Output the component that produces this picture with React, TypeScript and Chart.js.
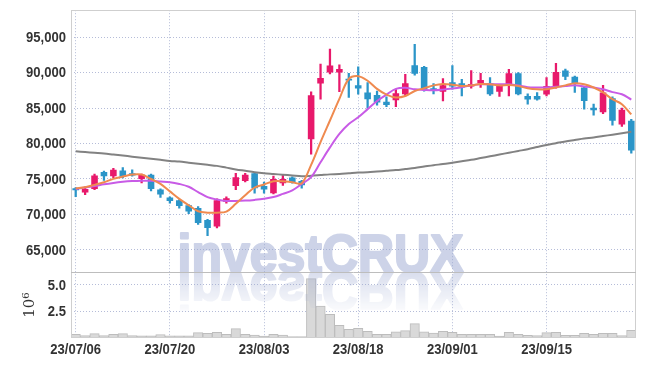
import React, { useEffect, useRef } from 'react';
import { Chart, registerables } from 'chart.js';

Chart.register(...registerables);

const dates = [
  '23/07/06', '23/07/07', '23/07/10', '23/07/11', '23/07/12', '23/07/13', '23/07/14', '23/07/17', '23/07/18', '23/07/19',
  '23/07/20', '23/07/21', '23/07/24', '23/07/25', '23/07/26', '23/07/27', '23/07/28', '23/07/31', '23/08/01', '23/08/02',
  '23/08/03', '23/08/04', '23/08/07', '23/08/08', '23/08/09', '23/08/10', '23/08/11', '23/08/14', '23/08/16', '23/08/17',
  '23/08/18', '23/08/21', '23/08/22', '23/08/23', '23/08/24', '23/08/25', '23/08/28', '23/08/29', '23/08/30', '23/08/31',
  '23/09/01', '23/09/04', '23/09/05', '23/09/06', '23/09/07', '23/09/08', '23/09/11', '23/09/12', '23/09/13', '23/09/14',
  '23/09/15', '23/09/18', '23/09/19', '23/09/20', '23/09/21', '23/09/22', '23/09/25', '23/09/26', '23/09/27', '23/10/04',
];

const xTickLabels = ['23/07/06', '23/07/20', '23/08/03', '23/08/18', '23/09/01', '23/09/15'];

const opens = [
  73700, 73100, 73600, 76000, 75400, 76200, 75800, 75000, 75600, 73500,
  72400, 72000, 71300, 70900, 69200, 68300, 71800, 74000, 74700, 75800,
  74000, 73000, 74400, 75200, 74700, 80600, 88450, 90000, 90000, 89150,
  88200, 87200, 86850, 85900, 86100, 86950, 91050, 90800, 87800, 87300,
  88650, 88500, 88050, 88500, 88500, 87300, 88350, 89900, 86700, 86700,
  86900, 88000, 90300, 89400, 87900, 85050, 84400, 86400, 82700, 83200,
];
const highs = [
  73800, 73900, 75700, 76100, 76500, 76600, 76300, 75700, 75700, 73600,
  72500, 72100, 71400, 71100, 69300, 72200, 72500, 75800, 75800, 75900,
  74550, 75400, 75500, 75300, 74800, 87300, 91200, 93300, 91100, 89900,
  90800, 88600, 87400, 86600, 87600, 89750, 94000, 90900, 88450, 89150,
  91000, 89050, 90300, 89900, 89300, 88300, 90450, 90000, 87000, 87200,
  89300, 91300, 90500, 89500, 88000, 85550, 88200, 86600, 85000, 83400,
];
const lows = [
  72500, 72800, 73500, 74800, 75200, 75150, 75400, 74450, 73300, 72400,
  71600, 70900, 70100, 68600, 67000, 68100, 71600, 73500, 74600, 73000,
  73000, 72900, 74100, 74400, 73700, 78500, 86250, 89800, 87300, 86500,
  86950, 85000, 85400, 85200, 85200, 86700, 89650, 87400, 87000, 86000,
  87650, 86700, 87800, 87900, 86800, 86650, 86700, 86850, 85550, 86100,
  86700, 87800, 89000, 87200, 84850, 84000, 84200, 82600, 82400, 78650,
];
const closes = [
  73400, 73600, 75500, 75400, 76300, 75300, 75500, 75600, 73600, 72800,
  71900, 71200, 70400, 68800, 68100, 72000, 72300, 75250, 75600, 73700,
  73500, 75000, 75000, 74550, 74100, 86800, 89250, 91000, 90500, 88900,
  87750, 86250, 85800, 85450, 87100, 88500, 89850, 87650, 87500, 88200,
  88050, 87900, 88400, 88950, 86950, 88100, 89900, 86950, 86200, 86200,
  88100, 90100, 89400, 88500, 86000, 84700, 87200, 83200, 84750, 79000,
];

const ma5 = [
  73700, 73840, 74170, 74540, 75010, 75340, 75620, 75620, 75000, 74300,
  73250, 72200, 71300, 70450, 70250, 70250, 70400, 71500, 72700, 73800,
  74220, 74680, 74680, 74540, 74400, 77000, 80200, 83250, 86300, 89100,
  89500, 88850, 87700, 86900, 86500, 86700, 87400, 87800, 88200, 88400,
  88300, 88100, 88200, 88400, 88350, 88200, 88250, 88100, 87800, 87650,
  87650, 87900, 88200, 88500, 88350, 87900, 87200, 86250, 85550, 84100,
];
const ma10 = [
  73600, 73800, 74000, 74250, 74450, 74600, 74700, 74750, 74750, 74650,
  74550, 74300, 73900, 73150, 72450, 72100, 71900, 71900, 71950, 72050,
  72200, 72450, 72900, 73400, 74300, 75250, 77350, 79450, 81350, 82750,
  83700, 84850, 86000, 86900, 87700, 87850, 87650, 87550, 87500, 87600,
  87750, 87950, 88200, 88350, 88350, 88350, 88350, 88200, 87950, 87900,
  87900, 88000, 88100, 88200, 88050, 87900, 87650, 87250, 86950, 86200,
];
const maLong = [
  78900, 78800, 78700, 78600, 78450, 78300, 78150, 78000, 77850, 77700,
  77550, 77450, 77300, 77150, 77000, 76850, 76600, 76350, 76150, 75950,
  75800, 75700, 75600, 75500, 75400, 75450, 75550, 75650, 75700, 75800,
  75900, 75950, 76050, 76150, 76250, 76400, 76550, 76750, 76950, 77100,
  77300, 77500, 77700, 77950, 78200, 78450, 78700, 78950, 79200, 79500,
  79800, 80050, 80300, 80500, 80700, 80850, 81050, 81250, 81450, 81650,
];

// volume in millions of shares
const volumes = [
  0.35, 0.23, 0.42, 0.23, 0.35, 0.42, 0.23, 0.2, 0.2, 0.33,
  0.2, 0.2, 0.2, 0.5, 0.45, 0.53, 0.35, 0.88, 0.35, 0.27,
  0.17, 0.35, 0.27, 0.13, 0.13, 5.6, 3.0, 2.24, 1.2, 0.82,
  0.91, 0.63, 0.35, 0.35, 0.57, 0.69, 1.36, 0.57, 0.47, 0.63,
  0.53, 0.35, 0.35, 0.35, 0.35, 0.19, 0.53, 0.35, 0.25, 0.22,
  0.5, 0.53, 0.25, 0.25, 0.44, 0.35, 0.44, 0.44, 0.22, 0.72,
];

const priceTicks = [65000, 70000, 75000, 80000, 85000, 90000, 95000];
const volumeTicks = [2.5, 5.0];

const UP = '#e8196b';
const DOWN = '#2b95c8';
const GRID = 'rgba(150,160,200,0.7)';
const TICK_COLOR = '#333333';
const LABEL_FONT = 'bold 15px "Liberation Sans", Arial, sans-serif';
const LABEL_SX = 0.87;

function drawCondensed(ctx: CanvasRenderingContext2D, text: string, x: number, y: number, align: CanvasTextAlign, baseline: CanvasTextBaseline) {
  ctx.save();
  ctx.translate(x, y);
  ctx.scale(LABEL_SX, 1);
  ctx.textAlign = align;
  ctx.textBaseline = baseline;
  ctx.fillText(text, 0, 0);
  ctx.restore();
}

const labelsPlugin = {
  id: 'condensedLabels',
  afterDraw(chart: any) {
    const ctx = chart.ctx as CanvasRenderingContext2D;
    const a = chart.chartArea;
    const xs = chart.scales.x;
    const ys = chart.scales.y;
    const yv = chart.scales.yv;
    ctx.save();
    ctx.font = LABEL_FONT;
    ctx.fillStyle = TICK_COLOR;
    xTickLabels.forEach((lab) => {
      const idx = dates.indexOf(lab);
      const px = xs.getPixelForValue(idx);
      drawCondensed(ctx, lab, px, xs.top + 16, 'center', 'alphabetic');
    });
    priceTicks.forEach((v) => {
      drawCondensed(ctx, v.toLocaleString('en-US'), a.left - 5, ys.getPixelForValue(v) + 0.5, 'right', 'middle');
    });
    volumeTicks.forEach((v) => {
      drawCondensed(ctx, v.toFixed(1), a.left - 5, yv.getPixelForValue(v) + 0.5, 'right', 'middle');
    });
    ctx.restore();
  },
};

const watermarkPlugin = {
  id: 'watermark',
  afterDatasetsDraw(chart: any) {
    const ctx = chart.ctx as CanvasRenderingContext2D;
    const baseline = chart.scales.y.bottom;
    const text = 'investCRUX';
    const W = chart.width;
    const H = chart.height;
    const font = 'bold 53px "Liberation Sans", Arial, sans-serif';
    const color = 'rgb(155,168,209)';

    const main = document.createElement('canvas');
    main.width = W;
    main.height = H;
    const mc = main.getContext('2d') as CanvasRenderingContext2D;
    mc.font = font;
    const w = mc.measureText(text).width;
    const targetW = 286;
    const sx = targetW / w;
    const left = W / 2 - 2 - targetW / 2;

    const drawText = (c: CanvasRenderingContext2D, flip: boolean) => {
      c.save();
      c.translate(left, baseline);
      c.scale(sx, flip ? -1 : 1);
      c.font = font;
      c.textBaseline = 'alphabetic';
      c.textAlign = 'left';
      c.fillStyle = color;
      c.strokeStyle = color;
      c.lineWidth = 2.2;
      c.lineJoin = 'round';
      c.fillText(text, 0, 0);
      c.strokeText(text, 0, 0);
      c.restore();
    };

    // reflection on its own layer, faded with a gradient mask
    const refl = document.createElement('canvas');
    refl.width = W;
    refl.height = H;
    const rc = refl.getContext('2d') as CanvasRenderingContext2D;
    drawText(rc, true);
    rc.globalCompositeOperation = 'destination-in';
    const g = rc.createLinearGradient(0, baseline, 0, baseline + 44);
    g.addColorStop(0, 'rgba(0,0,0,0.75)');
    g.addColorStop(1, 'rgba(0,0,0,0)');
    rc.fillStyle = g;
    rc.fillRect(0, baseline, W, 46);
    rc.globalCompositeOperation = 'destination-out';
    rc.fillRect(0, 0, W, baseline);

    drawText(mc, false);
    mc.clearRect(0, baseline, W, H - baseline);
    mc.drawImage(refl, 0, 0);

    ctx.save();
    ctx.globalAlpha = 0.5;
    ctx.drawImage(main, 0, 0, W, H);
    ctx.restore();
  },
  afterDraw(chart: any) {
    const ctx = chart.ctx as CanvasRenderingContext2D;
    const a = chart.chartArea;
    const yv = chart.scales.yv;
    ctx.save();
    ctx.strokeStyle = '#cfcfcf';
    ctx.lineWidth = 1;
    ctx.strokeRect(Math.round(a.left) + 0.5, Math.round(a.top) + 0.5, Math.round(a.right - a.left) - 1, Math.round(a.bottom - a.top) - 1);
    ctx.strokeStyle = '#bdbdbd';
    ctx.beginPath();
    const sy = Math.round(yv.top) + 0.5;
    ctx.moveTo(a.left, sy);
    ctx.lineTo(a.right, sy);
    ctx.stroke();
    ctx.restore();
  },
};

export default function App() {
  const canvasRef = useRef<HTMLCanvasElement | null>(null);

  useEffect(() => {
    if (!canvasRef.current) return;
    const colorFor = (c: any) => (closes[c.dataIndex] >= opens[c.dataIndex] ? UP : DOWN);
    const hidden = 'rgba(0,0,0,0)';
    const chart = new Chart(canvasRef.current, {
      type: 'bar',
      data: {
        labels: dates,
        datasets: [
          { type: 'line', label: 'MA5', data: ma5, yAxisID: 'y', borderColor: '#ef8a4f', borderWidth: 2, pointRadius: 0, tension: 0.35, order: 0 } as any,
          { type: 'line', label: 'MA10', data: ma10, yAxisID: 'y', borderColor: '#c85be6', borderWidth: 2, pointRadius: 0, tension: 0.35, order: 0 } as any,
          { type: 'line', label: 'MA long', data: maLong, yAxisID: 'y', borderColor: '#828282', borderWidth: 2, pointRadius: 0, tension: 0.35, order: 0 } as any,
          {
            type: 'bar', label: 'body', data: opens.map((o, i) => [o, closes[i]]), yAxisID: 'y',
            backgroundColor: colorFor, borderWidth: 0, grouped: false,
            categoryPercentage: 1, barPercentage: 0.7, minBarLength: 1.5, order: 2,
          } as any,
          {
            type: 'bar', label: 'wick', data: lows.map((l, i) => [l, highs[i]]), yAxisID: 'y',
            backgroundColor: colorFor, borderWidth: 0, grouped: false, barThickness: 1.6, order: 3,
          } as any,
          {
            type: 'bar', label: 'volume', data: volumes, yAxisID: 'yv',
            backgroundColor: '#d9d9d9', borderColor: '#bdbdbd', borderWidth: 1, grouped: false,
            categoryPercentage: 1, barPercentage: 1, order: 4,
          } as any,
        ],
      },
      options: {
        animation: false,
        responsive: true,
        maintainAspectRatio: false,
        layout: { padding: { left: 0, right: 9, top: 9, bottom: 0 } },
        plugins: { legend: { display: false }, tooltip: { enabled: false } },
        scales: {
          x: {
            type: 'category',
            offset: true,
            afterFit: (s: any) => { s.height = 28; },
            grid: { offset: false, color: GRID, drawTicks: false, lineWidth: 1 },
            border: { display: false, dash: [1, 2] },
            ticks: {
              autoSkip: false, maxRotation: 0, minRotation: 0, color: hidden,
              callback: (_v: any, i: number) => (xTickLabels.includes(dates[i]) ? dates[i] : null),
            },
          },
          yv: {
            type: 'linear', position: 'left', stack: 'main', stackWeight: 66, min: 0, max: 6.2,
            afterFit: (s: any) => { s.width = 71; },
            afterBuildTicks: (s: any) => { s.ticks = volumeTicks.map((v) => ({ value: v })); },
            grid: { color: GRID, drawTicks: false },
            border: { display: false, dash: [1, 2] },
            title: {
              display: true, text: '10\u2076', color: TICK_COLOR,
              font: { family: '"DejaVu Serif", serif', size: 15 },
              padding: { top: 21, bottom: 0 },
            },
            ticks: { color: hidden, callback: (v: any) => Number(v).toFixed(1) },
          },
          y: {
            type: 'linear', position: 'left', stack: 'main', stackWeight: 263, min: 61850, max: 98800,
            afterFit: (s: any) => { s.width = 71; },
            afterBuildTicks: (s: any) => { s.ticks = priceTicks.map((v) => ({ value: v })); },
            grid: { color: GRID, drawTicks: false },
            border: { display: false, dash: [1, 2] },
            ticks: { color: hidden, callback: (v: any) => Number(v).toLocaleString('en-US') },
          },
        },
      } as any,
      plugins: [watermarkPlugin, labelsPlugin],
    });
    return () => chart.destroy();
  }, []);

  return (
    <div style={{ position: 'absolute', left: 0, top: 0, width: 645, height: 366, background: '#fff' }}>
      <canvas ref={canvasRef} />
    </div>
  );
}
